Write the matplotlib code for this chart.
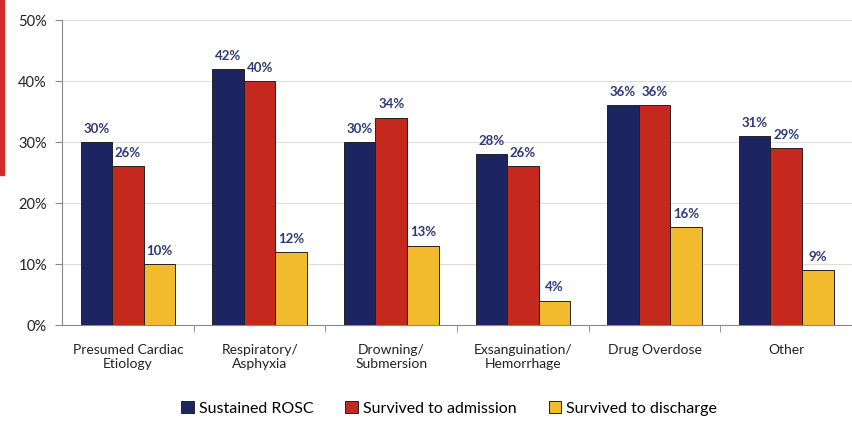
import numpy as np
import matplotlib.pyplot as plt
from matplotlib.patches import Rectangle

plt.rcParams['font.family'] = ['Lato', 'DejaVu Sans']

categories = ['Presumed Cardiac\nEtiology', 'Respiratory/\nAsphyxia', 'Drowning/\nSubmersion',
              'Exsanguination/\nHemorrhage', 'Drug Overdose', 'Other']
series_names = ['Sustained ROSC', 'Survived to admission', 'Survived to discharge']
rosc = [30, 42, 30, 28, 36, 31]
admission = [26, 40, 34, 26, 36, 29]
discharge = [10, 12, 13, 4, 16, 9]
colors = ['#1c2562', '#c5281c', '#f2bb2e']

fig = plt.figure(figsize=(8.52, 4.26), dpi=100)
ax = fig.add_axes([0.073, 0.237, 0.927, 0.716])

x = np.arange(len(categories))
width = 0.24
for i, (vals, name, col) in enumerate(zip([rosc, admission, discharge], series_names, colors)):
    pos = x + (i - 1) * width
    ax.bar(pos, vals, width, color=col, edgecolor='#222222', linewidth=0.7, label=name, zorder=3)
    for p, v in zip(pos, vals):
        ax.text(p, v + 1.2, f'{v}%', ha='center', va='bottom', fontsize=9.5,
                fontweight='bold', color='#2e3a78', zorder=4)

ax.set_xlim(-0.5, len(categories) - 0.5)
ax.set_ylim(0, 50)
ax.set_yticks(np.arange(0, 51, 10))
ax.set_yticklabels([f'{t}%' for t in range(0, 51, 10)], fontsize=10.5, color='#222222')
ax.yaxis.grid(True, color='#dddddd', linewidth=0.8, zorder=0)

ax.set_xticks(x)
ax.set_xticklabels(categories, fontsize=10, color='#222222')
ax.tick_params(axis='x', length=0, pad=14)
ax.set_xticks(np.arange(0.5, len(categories) - 0.5, 1), minor=True)
ax.tick_params(axis='x', which='minor', length=5, color='#888888')
ax.tick_params(axis='y', length=5, color='#888888', pad=6)

for side in ['top', 'right']:
    ax.spines[side].set_visible(False)
ax.spines['left'].set_color('#888888')
ax.spines['bottom'].set_color('#888888')

ax.legend(loc='lower center', bbox_to_anchor=(0.49, -0.345), ncol=3, frameon=False,
          fontsize=11.5, handlelength=0.8, handleheight=0.8, handletextpad=0.3, columnspacing=2.0)

# red accent strip on the left edge
fig.patches.append(Rectangle((0, 0.59), 0.005, 0.41, transform=fig.transFigure,
                             color='#d42a2a', zorder=5))

fig.savefig('out.png', dpi=100)
